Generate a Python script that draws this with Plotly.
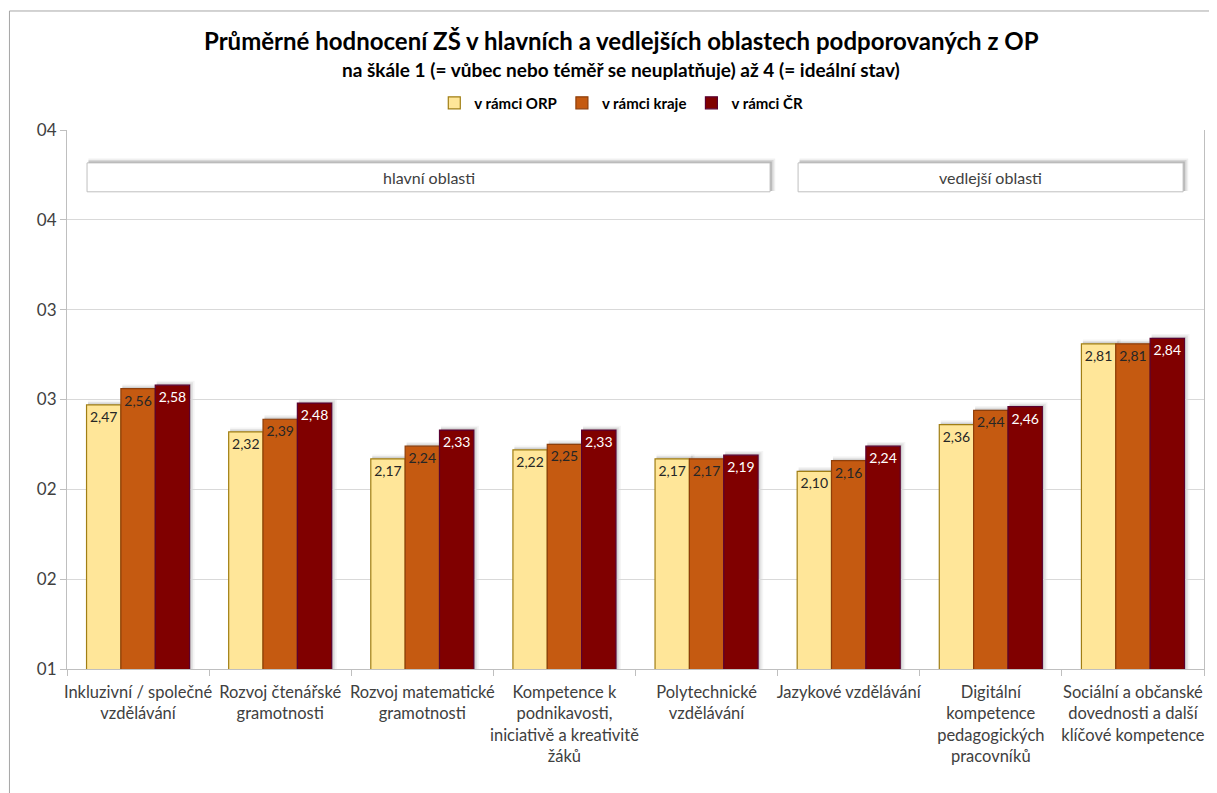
import plotly.graph_objects as go

categories = [
    "Inkluzivní / společné<br>vzdělávání",
    "Rozvoj čtenářské<br>gramotnosti",
    "Rozvoj matematické<br>gramotnosti",
    "Kompetence k<br>podnikavosti,<br>iniciativě a kreativitě<br>žáků",
    "Polytechnické<br>vzdělávání",
    "Jazykové vzdělávání",
    "Digitální<br>kompetence<br>pedagogických<br>pracovníků",
    "Sociální a občanské<br>dovednosti a další<br>klíčové kompetence",
]
series_names = ["v rámci ORP", "v rámci kraje", "v rámci ČR"]
orp = [2.47, 2.32, 2.17, 2.22, 2.17, 2.10, 2.36, 2.81]
kraj = [2.56, 2.39, 2.24, 2.25, 2.17, 2.16, 2.44, 2.81]
cr = [2.58, 2.48, 2.33, 2.33, 2.19, 2.24, 2.46, 2.84]
y_tickvals = [1.0, 1.5, 2.0, 2.5, 3.0, 3.5, 4.0]
y_ticktext = ["01", "02", "02", "03", "03", "04", "04"]
group_labels = ["hlavní oblasti", "vedlejší oblasti"]

FONT = "Lato, 'Open Sans', sans-serif"
fills = ["#FFE699", "#C55A11", "#800000"]
lines = ["#A07E14", "#8E3E0A", "#5A0030"]
txtcol = ["#262626", "#262626", "#FFFFFF"]
BARGAP = 0.275

fig = go.Figure()
for name, vals, fc, lc, tc in zip(series_names, [orp, kraj, cr], fills, lines, txtcol):
    fig.add_trace(go.Bar(
        name="<b>" + name + "</b>", x=categories, y=vals,
        marker=dict(color=fc, line=dict(color=lc, width=1.2)),
        texttemplate="%{y:.2f}", textposition="inside",
        insidetextanchor="end", textangle=0,
        textfont=dict(family=FONT, size=14, color=tc),
    ))

shapes = []
# outer frame (left and top edges only are visible)
shapes.append(dict(type="line", xref="paper", yref="paper", x0=-0.0506, x1=1.3,
                   y0=1.2208, y1=1.2208, line=dict(color="#A6A6A6", width=1), layer="below"))
shapes.append(dict(type="line", xref="paper", yref="paper", x0=-0.0506, x1=-0.0506,
                   y0=-0.6, y1=1.2208, line=dict(color="#A6A6A6", width=1), layer="below"))

# soft bar shadows (derived from the data and the bar layout)
group_w = 1 - BARGAP
bar_w = group_w / 3
for i, vals in enumerate([orp, kraj, cr]):
    for j, v in enumerate(vals):
        right = j - group_w / 2 + (i + 1) * bar_w
        for k, a in enumerate([0.10, 0.07, 0.04]):
            d = 0.012 * (k + 1)
            shapes.append(dict(type="rect", xref="x", yref="y",
                               x0=right - bar_w + 0.01, x1=right + d,
                               y0=1, y1=v + 0.008 * (k + 1),
                               fillcolor=f"rgba(0,0,0,{a})", line=dict(width=0), layer="below"))

# group boxes with shadows
boxes = [(-0.359, 4.447), (4.644, 7.353)]
for (x0, x1), lab in zip(boxes, group_labels):
    for k, a in enumerate([0.16, 0.10, 0.06]):
        dx = 0.012 * (k + 1)
        dy = 0.008 * (k + 1)
        shapes.append(dict(type="rect", xref="x", yref="y", x0=x0 + 0.01, x1=x1 + dx,
                           y0=3.66, y1=3.817 + dy, fillcolor=f"rgba(0,0,0,{a})",
                           line=dict(width=0), layer="above"))
    shapes.append(dict(type="rect", xref="x", yref="y", x0=x0, x1=x1,
                       y0=3.656, y1=3.817, fillcolor="white",
                       line=dict(color="#BFBFBF", width=1), layer="above"))
annotations = []
for (x0, x1), lab in zip(boxes, group_labels):
    annotations.append(dict(x=(x0 + x1) / 2, y=3.737, xref="x", yref="y", text=lab,
                            showarrow=False, font=dict(family=FONT, size=16, color="#404040")))

annotations.append(dict(x=0.4875, y=1.166, xref="paper", yref="paper",
                        text="<b>Průměrné hodnocení ZŠ v hlavních a vedlejších oblastech podporovaných z OP</b>",
                        showarrow=False, font=dict(family=FONT, size=24, color="#000000"),
                        xanchor="center", yanchor="middle"))
annotations.append(dict(x=0.4875, y=1.112, xref="paper", yref="paper",
                        text="<b>na škále 1 (= vůbec nebo téměř se neuplatňuje) až 4 (= ideální stav)</b>",
                        showarrow=False, font=dict(family=FONT, size=19, color="#000000"),
                        xanchor="center", yanchor="middle"))

fig.update_layout(
    width=1209, height=785,
    margin=dict(l=59, r=13, t=122, b=124),
    paper_bgcolor="white", plot_bgcolor="white",
    barmode="group", bargap=BARGAP, bargroupgap=0,
    separators=", ",
    font=dict(family=FONT, color="#404040"),
    showlegend=True,
    legend=dict(orientation="h", x=0.4875, xanchor="center", y=1.05, yanchor="middle",
                font=dict(family=FONT, size=15, color="#000000"),
                itemwidth=30, traceorder="normal", itemclick=False),
    shapes=shapes, annotations=annotations,
)
fig.update_xaxes(showline=True, linecolor="#BFBFBF", ticks="outside", tickcolor="#BFBFBF",
                 ticklen=6, tickson="boundaries", ticklabelstandoff=8,
                 tickfont=dict(family=FONT, size=16.5, color="#404040"),
                 tickangle=0, showgrid=False)
fig.update_yaxes(range=[1, 4], tickvals=y_tickvals, ticktext=y_ticktext,
                 showline=True, mirror=True, linecolor="#BFBFBF", ticks="outside", tickcolor="#BFBFBF",
                 ticklen=6, showgrid=True, gridcolor="#D9D9D9", zeroline=False,
                 tickfont=dict(family=FONT, size=17, color="#404040"))

fig.write_html("out.html")
